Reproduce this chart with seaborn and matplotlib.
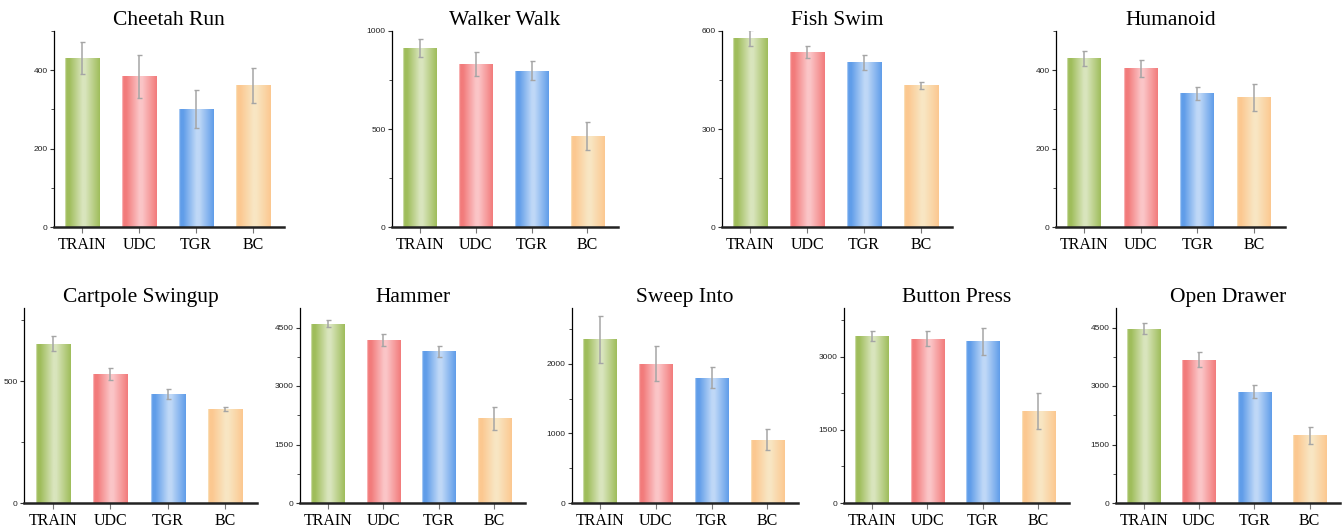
import numpy as np
import pandas as pd
import matplotlib
matplotlib.use("Agg")
import matplotlib.pyplot as plt
from matplotlib.colors import LinearSegmentedColormap
from matplotlib.ticker import MultipleLocator
import seaborn as sns

methods = ["TRAIN", "UDC", "TGR", "BC"]

tasks = ["Cheetah Run", "Walker Walk", "Fish Swim", "Humanoid",
         "Cartpole Swingup", "Hammer", "Sweep Into", "Button Press", "Open Drawer"]

cheetah_mean = [431, 384, 301, 361]
cheetah_err = [41, 55, 48, 45]
walker_mean = [913, 833, 797, 465]
walker_err = [44, 61, 49, 71]
fish_mean = [578, 536, 505, 434]
fish_err = [24, 19, 23, 11]
humanoid_mean = [430, 405, 341, 331]
humanoid_err = [19, 22, 16, 35]
cartpole_mean = [654, 530, 446, 384]
cartpole_err = [32, 25, 20, 8]
hammer_mean = [4602, 4185, 3886, 2173]
hammer_err = [85, 150, 135, 300]
sweep_mean = [2352, 1998, 1796, 910]
sweep_err = [335, 250, 150, 150]
button_mean = [3430, 3369, 3314, 1896]
button_err = [100, 150, 275, 370]
drawer_mean = [4466, 3674, 2855, 1739]
drawer_err = [140, 185, 160, 220]

means = [cheetah_mean, walker_mean, fish_mean, humanoid_mean, cartpole_mean,
         hammer_mean, sweep_mean, button_mean, drawer_mean]
errs = [cheetah_err, walker_err, fish_err, humanoid_err, cartpole_err,
        hammer_err, sweep_err, button_err, drawer_err]

# axis settings: (ymax, major step, minor step)
yaxes = [(500, 200, 100), (1000, 500, 250), (600, 300, 150), (500, 200, 100),
         (800, 500, 250), (5000, 1500, 750), (2800, 1000, 500), (4000, 1500, 750),
         (5000, 1500, 750)]

# axes positions in pixels: left, right, top, bottom
W, H = 1344, 531
boxes = [(54, 284, 31, 227), (392, 618, 31, 227), (722, 952, 31, 227), (1056, 1285, 31, 227),
         (24, 257, 308, 503), (300, 525, 308, 503), (572, 798, 308, 503),
         (844, 1069, 308, 503), (1116, 1340, 308, 503)]

dark = ["#9fbd5b", "#f27b7b", "#609de9", "#fcc890"]
light = ["#d9e5bd", "#fbc5c7", "#bfd8f7", "#f8e6c3"]

sns.set_theme(style="white")
plt.rcParams["font.family"] = ["Liberation Serif", "DejaVu Serif"]
plt.rcParams["text.color"] = "black"
plt.rcParams["xtick.color"] = "black"
plt.rcParams["ytick.color"] = "#222222"

fig = plt.figure(figsize=(W / 100, H / 100), dpi=100)

for i, task in enumerate(tasks):
    l, r, t, b = boxes[i]
    ax = fig.add_axes([l / W, 1 - b / H, (r - l) / W, (b - t) / H])
    df = pd.DataFrame({"Method": methods, "Score": means[i]})
    sns.barplot(data=df, x="Method", y="Score", hue="Method", palette=dark,
                width=0.6, errorbar=None, legend=False, ax=ax)

    # cylinder-like gradient fill clipped to each bar
    for j, patch in enumerate(ax.patches):
        x0, y0 = patch.get_x(), patch.get_y()
        w, h = patch.get_width(), patch.get_height()
        cmap = LinearSegmentedColormap.from_list(
            "g", [(0, light[j]), (0.04, dark[j]), (0.12, dark[j]),
                  (0.5, light[j]), (0.58, light[j]), (1, dark[j])])
        grad = np.linspace(0, 1, 200).reshape(1, -1)
        im = ax.imshow(grad, cmap=cmap, aspect="auto",
                       extent=[x0, x0 + w, y0, y0 + h], zorder=2)
        im.set_clip_path(patch)
        patch.set_edgecolor("none")

    ax.errorbar(range(len(methods)), means[i], yerr=errs[i], fmt="none",
                ecolor="#a5a5a5", elinewidth=1.1, capsize=1.8, capthick=1.0, zorder=3)

    ymax, major, minor = yaxes[i]
    ax.set_xlim(-0.5, 3.55)
    ax.set_ylim(0, ymax)
    ax.yaxis.set_major_locator(MultipleLocator(major))
    ax.yaxis.set_minor_locator(MultipleLocator(minor))
    ax.set_xlabel("")
    ax.set_ylabel("")
    ax.set_title(task, fontsize=15.5, pad=4, color="black")
    sns.despine(ax=ax)
    ax.spines["left"].set_linewidth(0.9)
    ax.spines["left"].set_color("black")
    ax.spines["bottom"].set_linewidth(1.8)
    ax.spines["bottom"].set_color("#222222")
    ax.tick_params(axis="x", which="major", direction="out", length=4, width=0.8,
                   color="#777777", labelcolor="black", labelsize=11.5, pad=3.5, bottom=True)
    ax.tick_params(axis="y", which="major", direction="out", length=3, width=0.8,
                   color="#333333", pad=1.5, left=True)
    ax.tick_params(axis="y", which="minor", direction="out", length=2, width=0.6,
                   color="#333333", left=True)
    for lab in ax.get_yticklabels():
        lab.set_fontfamily(["Liberation Sans", "DejaVu Sans"])
        lab.set_fontsize(6)
        lab.set_color("#222222")

fig.savefig("out.png", dpi=100)
